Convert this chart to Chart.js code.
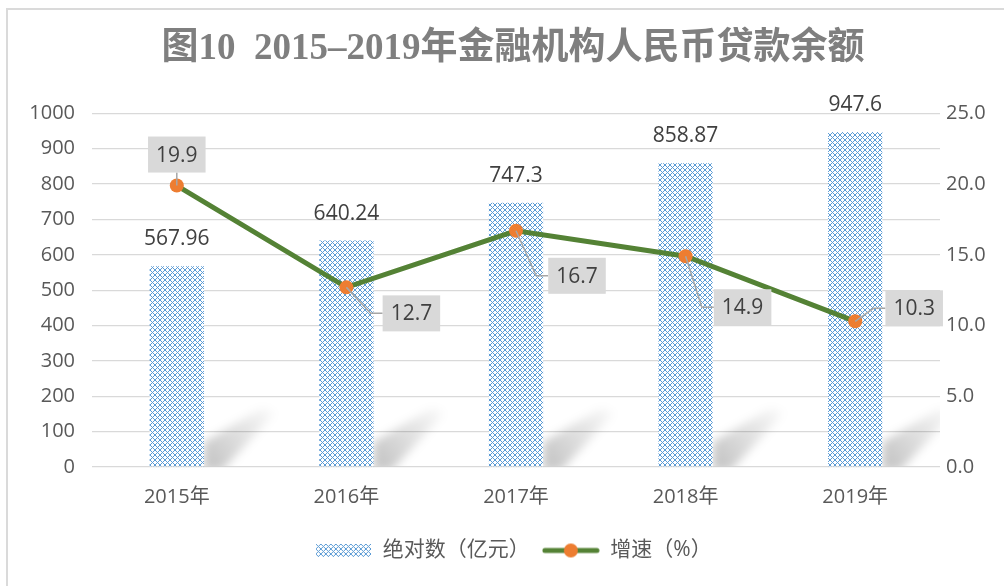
<!DOCTYPE html>
<html>
<head>
<meta charset="utf-8">
<script src="https://cdn.jsdelivr.net/npm/chart.js@4/dist/chart.umd.min.js"></script>
<style>
  body { margin: 0; background: #fff; }
  #wrap { position: relative; width: 1004px; height: 586px; overflow: hidden; }
  #frame { position: absolute; left: 6px; top: 8px; width: 1200px; height: 800px;
           border-top: 2px solid #dadada; border-left: 2px solid #dadada; }
  canvas { position: absolute; left: 0; top: 0; }
</style>
</head>
<body>
<div id="wrap">
  <div id="frame"></div>
  <canvas id="loanChart" width="1004" height="586"></canvas>
</div>
<script>
const years = ['2015年', '2016年', '2017年', '2018年', '2019年'];
const loanBalance = [567.96, 640.24, 747.3, 858.87, 947.6];   // 绝对数（亿元）
const growthRate = [19.9, 12.7, 16.7, 14.9, 10.3];            // 增速（%）
const leftTicks = [0, 100, 200, 300, 400, 500, 600, 700, 800, 900, 1000];
const rightTicks = [0, 5, 10, 15, 20, 25];

const blue = '#5b9bd5';
const green = '#548235';
const orange = '#ed7d31';
const textColor = '#595959';
const labelColor = '#404040';
const baseFont = "'Open Sans', 'Noto Sans CJK SC', sans-serif";

// diamond cross-hatch like the excel fill
const makePattern = () => {
    const tile = document.createElement('canvas');
    tile.width = 5; tile.height = 5;
    const t = tile.getContext('2d');
    t.fillStyle = '#ffffff';
    t.fillRect(0, 0, 5, 5);
    t.fillStyle = blue;
    for (let i = 0; i < 5; i++) {
        t.fillRect(i, i, 1, 1);
        t.fillRect(i, 4 - i, 1, 1);
    }
    return document.getElementById('loanChart').getContext('2d').createPattern(tile, 'repeat');
};
const barPattern = makePattern();

const barSwatch = (() => {
    const c = document.createElement('canvas');
    c.width = 55; c.height = 13;
    const x = c.getContext('2d');
    x.fillStyle = barPattern;
    x.fillRect(0, 0, 55, 13);
    return c;
})();

const lineSwatch = (() => {
    const c = document.createElement('canvas');
    c.width = 58; c.height = 16;
    const x = c.getContext('2d');
    x.strokeStyle = green;
    x.lineWidth = 5;
    x.lineCap = 'round';
    x.beginPath(); x.moveTo(3, 8); x.lineTo(55, 8); x.stroke();
    x.fillStyle = orange;
    x.beginPath(); x.arc(29, 8, 7, 0, Math.PI * 2); x.fill();
    return c;
})();

// soft grey shadow falling to the right of each bar
const barShadows = {
    id: 'barShadows',
    beforeDatasetsDraw(chart) {
        const ctx = chart.ctx;
        const meta = chart.getDatasetMeta(0);
        meta.data.forEach(bar => {
            const r = bar.x + bar.width / 2;
            const b = bar.base;
            ctx.save();
            ctx.beginPath();
            ctx.rect(chart.chartArea.left, chart.chartArea.top, chart.chartArea.width, b - chart.chartArea.top);
            ctx.clip();
            ctx.filter = 'blur(5px)';
            const g = ctx.createLinearGradient(r, b, r + 70, b - 55);
            g.addColorStop(0, 'rgba(0,0,0,0.24)');
            g.addColorStop(0.5, 'rgba(0,0,0,0.13)');
            g.addColorStop(1, 'rgba(0,0,0,0.02)');
            ctx.fillStyle = g;
            ctx.beginPath();
            ctx.moveTo(r, b + 4);
            ctx.lineTo(r, b - 24);
            ctx.lineTo(r + 58, b - 58);
            ctx.lineTo(r + 72, b - 54);
            ctx.lineTo(r + 18, b + 4);
            ctx.closePath();
            ctx.fill();
            ctx.restore();
        });
    }
};

// value labels: plain above bars, boxed with leader line for the growth line
const valueLabels = {
    id: 'valueLabels',
    afterDatasetsDraw(chart, args, opts) {
        const ctx = chart.ctx;
        ctx.save();
        ctx.font = '21px ' + baseFont;
        ctx.textAlign = 'center';
        ctx.textBaseline = 'middle';

        chart.getDatasetMeta(0).data.forEach((bar, i) => {
            ctx.fillStyle = labelColor;
            ctx.fillText(String(loanBalance[i]), bar.x, bar.y - 27);
        });

        chart.getDatasetMeta(1).data.forEach((pt, i) => {
            const text = growthRate[i].toFixed(1);
            const w = ctx.measureText(text).width + 16;
            const h = 36;
            const [dx, dy] = opts.offsets[i];
            const cx = pt.x + dx, cy = pt.y + dy;
            const left = cx - w / 2;

            ctx.strokeStyle = '#a6a6a6';
            ctx.lineWidth = 1.5;
            ctx.beginPath();
            if (dx === 0) {
                ctx.moveTo(pt.x, pt.y);
                ctx.lineTo(cx, cy + h / 2);
            } else {
                ctx.moveTo(pt.x, pt.y);
                ctx.lineTo(left - 12, cy);
                ctx.lineTo(left, cy);
            }
            ctx.stroke();

            ctx.fillStyle = '#d9d9d9';
            ctx.fillRect(left, cy - h / 2, w, h);
            ctx.fillStyle = labelColor;
            ctx.fillText(text, cx, cy + 1);
        });
        ctx.restore();
    }
};

new Chart(document.getElementById('loanChart'), {
    type: 'bar',
    data: {
        labels: years,
        datasets: [
            {
                label: '绝对数（亿元）',
                data: loanBalance,
                yAxisID: 'y',
                backgroundColor: barPattern,
                categoryPercentage: 1,
                barPercentage: 0.32,
                order: 1
            },
            {
                type: 'line',
                label: '增速（%）',
                data: growthRate,
                yAxisID: 'y1',
                borderColor: green,
                borderWidth: 5,
                pointRadius: 7,
                pointHoverRadius: 7,
                pointBackgroundColor: orange,
                pointBorderColor: orange,
                pointBorderWidth: 0,
                tension: 0,
                order: 0
            }
        ]
    },
    options: {
        responsive: false,
        animation: false,
        events: [],
        layout: { padding: { left: 22, right: 0, top: 0, bottom: 15 } },
        plugins: {
            title: {
                display: true,
                text: '图10  2015–2019年金融机构人民币贷款余额',
                color: '#7f7f7f',
                font: { family: "'Liberation Serif', 'Noto Sans CJK SC', serif", size: 37, weight: 'bold' },
                padding: { top: 27, bottom: 42 }
            },
            legend: {
                position: 'bottom',
                labels: {
                    color: textColor,
                    font: { family: baseFont, size: 21 },
                    usePointStyle: true,
                    pointStyleWidth: 58,
                    padding: 12,
                    generateLabels: () => [
                        { text: '绝对数（亿元）', pointStyle: barSwatch, fontColor: textColor, lineWidth: 0, datasetIndex: 0 },
                        { text: '增速（%）', pointStyle: lineSwatch, fontColor: textColor, lineWidth: 0, datasetIndex: 1 }
                    ]
                }
            },
            tooltip: { enabled: false },
            valueLabels: { offsets: [[0, -31], [65, 26], [61, 45], [57, 51], [59, -13]] }
        },
        scales: {
            x: {
                grid: { display: false },
                border: { display: false },
                afterFit: s => { s.height += 9; },
                ticks: { color: textColor, font: { family: baseFont, size: 20 }, padding: 10 }
            },
            y: {
                position: 'left',
                min: 0, max: 1000,
                afterBuildTicks: s => { s.ticks = leftTicks.map(v => ({ value: v })); },
                afterFit: s => { s.width = 70; },
                grid: { color: '#d9d9d9', lineWidth: 1.3, drawTicks: false },
                border: { display: false },
                ticks: { color: textColor, font: { family: baseFont, size: 20 }, padding: 17,
                         callback: v => String(v) }
            },
            y1: {
                position: 'right',
                min: 0, max: 25,
                afterBuildTicks: s => { s.ticks = rightTicks.map(v => ({ value: v })); },
                afterFit: s => { s.width = 64; },
                grid: { display: false, drawTicks: false },
                border: { display: false },
                ticks: { color: textColor, font: { family: baseFont, size: 20 }, padding: 6,
                         callback: v => Number(v).toFixed(1) }
            }
        }
    },
    plugins: [barShadows, valueLabels]
});
</script>
</body>
</html>
